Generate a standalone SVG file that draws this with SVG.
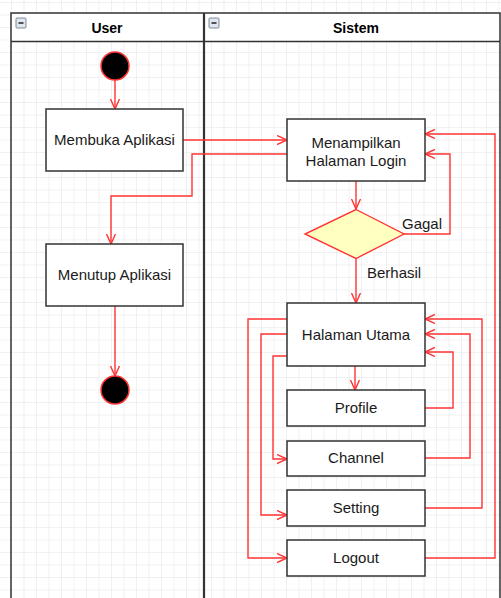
<svg xmlns="http://www.w3.org/2000/svg" width="501" height="598" viewBox="0 0 501 598">
<style>
.box{fill:#fff;stroke:#333;stroke-width:1.5}
.t{font-family:"Liberation Sans",Arial,sans-serif;font-size:15px;fill:#1a1a1a;text-anchor:middle}
.h{font-family:"Liberation Sans",Arial,sans-serif;font-size:14px;font-weight:bold;fill:#000;text-anchor:middle}
.lbl{font-family:"Liberation Sans",Arial,sans-serif;font-size:15px;fill:#1a1a1a}
.e{fill:none;stroke:#f33;stroke-width:1.4;marker-end:url(#arr)}
.pool{fill:none;stroke:#333;stroke-width:1.5}
</style>
<defs>
<pattern id="grid" width="12.5" height="12.5" patternUnits="userSpaceOnUse" x="11" y="2">
<path d="M0,0 L0,12.5 M0,0 L12.5,0" fill="none" stroke="#e3e3e3" stroke-width="1"/>
</pattern>
<marker id="arr" markerWidth="12" markerHeight="11" refX="10" refY="5" orient="auto" markerUnits="userSpaceOnUse">
<path d="M0,0.5 L10,5 L0,9.5" fill="none" stroke="#f33" stroke-width="1.4"/>
</marker>
<g id="minus">
<rect x="0" y="0" width="10" height="10" rx="1" fill="#dfe6ee" stroke="#7d8a99" stroke-width="1"/>
<line x1="2.5" y1="5" x2="7.5" y2="5" stroke="#222" stroke-width="1.5"/>
</g>
</defs>
<rect width="501" height="598" fill="#fff"/>
<rect width="501" height="598" fill="url(#grid)"/>

<g id="pool">
<rect x="11" y="13" width="489" height="29" fill="#fff"/>
<path class="pool" d="M11,600 L11,13 L500,13 L500,600 M11,41.5 L500,41.5"/>
<line x1="204" y1="13" x2="204" y2="600" stroke="#333" stroke-width="2.2"/>
<use href="#minus" x="16" y="18"/>
<use href="#minus" x="209" y="18"/>
<text class="h" x="107" y="33">User</text>
<text class="h" x="356" y="33">Sistem</text>
</g>

<g id="connectors">
<path class="e" d="M115,80 L115,109"/>
<path class="e" d="M183,140 L287,140"/>
<path class="e" d="M287,154 L192,154 L192,196 L111,196 L111,244"/>
<path class="e" d="M356,181 L356,209"/>
<path class="e" d="M404,234 L450,234 L450,154 L425,154"/>
<path class="e" d="M356,258 L356,303"/>
<path class="e" d="M115,306 L115,376"/>
<path class="e" d="M355,366 L355,390"/>
<path class="e" d="M287,356 L273,356 L273,459 L287,459"/>
<path class="e" d="M287,334 L261,334 L261,515 L287,515"/>
<path class="e" d="M287,319 L248,319 L248,558 L287,558"/>
<path class="e" d="M425,408 L453,408 L453,352 L425,352"/>
<path class="e" d="M425,458 L470,458 L470,334 L425,334"/>
<path class="e" d="M425,508 L482,508 L482,319 L425,319"/>
<path class="e" d="M425,558 L495,558 L495,134 L425,134"/>
<text class="lbl" x="402" y="229">Gagal</text>
<text class="lbl" x="367" y="278">Berhasil</text>
</g>

<g id="start"><circle cx="115" cy="66" r="14" fill="#000" stroke="#f33" stroke-width="1.5"/></g>
<g id="membuka"><rect class="box" x="46" y="109" width="137" height="62"/><text class="t" x="114.5" y="145">Membuka Aplikasi</text></g>
<g id="menutup"><rect class="box" x="46" y="244" width="137" height="62"/><text class="t" x="114.5" y="280">Menutup Aplikasi</text></g>
<g id="end"><circle cx="115" cy="390" r="14" fill="#000" stroke="#f33" stroke-width="1.5"/></g>
<g id="login"><rect class="box" x="287" y="119" width="138" height="62"/><text class="t" x="356" y="148">Menampilkan</text><text class="t" x="356" y="166">Halaman Login</text></g>
<g id="decision"><polygon points="356,209.5 404,234 356,258.5 305,234" fill="#ffffc0" stroke="#f33" stroke-width="1.4"/></g>
<g id="utama"><rect class="box" x="287" y="303" width="138" height="63"/><text class="t" x="356" y="340">Halaman Utama</text></g>
<g id="profile"><rect class="box" x="287" y="390" width="138" height="36"/><text class="t" x="356" y="413">Profile</text></g>
<g id="channel"><rect class="box" x="287" y="441" width="138" height="35"/><text class="t" x="356" y="463">Channel</text></g>
<g id="setting"><rect class="box" x="287" y="490" width="138" height="36"/><text class="t" x="356" y="513">Setting</text></g>
<g id="logout"><rect class="box" x="287" y="540" width="138" height="36"/><text class="t" x="356" y="563">Logout</text></g>
</svg>
